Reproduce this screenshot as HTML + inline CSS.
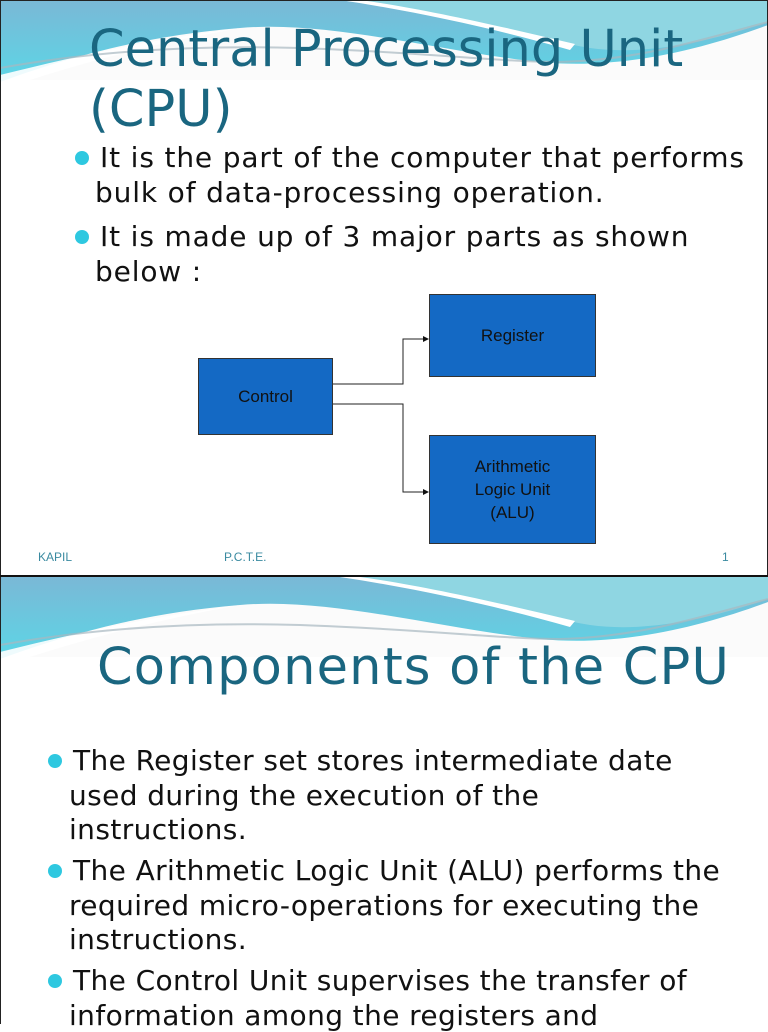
<!DOCTYPE html>
<html><head><meta charset="utf-8"><style>
html,body{margin:0;padding:0;background:#fff;}
body{width:768px;height:1024px;position:relative;overflow:hidden;font-family:"DejaVu Sans","Liberation Sans",sans-serif;}
.t{position:absolute;white-space:nowrap;color:#1a6680;}
.b{position:absolute;white-space:nowrap;color:#111;font-size:28px;letter-spacing:0.85px;}
.b2{position:absolute;white-space:nowrap;color:#111;font-size:28px;letter-spacing:0.4px;}
.dot{position:absolute;width:14px;height:14px;border-radius:50%;background:#2ec8e0;}
.box{position:absolute;background:#1469c4;border:1px solid #333;box-sizing:border-box;display:flex;align-items:center;justify-content:center;text-align:center;font-family:"Liberation Sans",sans-serif;font-size:17px;color:#111;line-height:23px;}
.f{position:absolute;font-family:"Liberation Sans",sans-serif;font-size:12px;color:#3a8aa0;}
</style></head><body>
<svg width="768" height="1024" style="position:absolute;left:0;top:0">
<defs>
<linearGradient id="g2" x1="0" y1="0" x2="0" y2="1"><stop offset="0" stop-color="#7ab8d6"/><stop offset="1" stop-color="#5cd6e6"/></linearGradient>
<g id="wave">
<rect x="0" y="0" width="768" height="80" fill="#fbfbfb"/>
<path d="M0,0 H768 V25 C700,50 620,70 540,62 C440,52 330,20 240,28 C140,36 60,60 0,82 Z" fill="url(#g2)"/>
<path d="M340,0 H768 V22 C700,45 640,55 590,48 C520,36 430,12 340,0 Z" fill="#8fd6e2"/>
<path d="M340,0 C420,12 500,30 570,50 L575,44 C500,26 420,8 360,0 Z" fill="#fff"/>
<path d="M0,75 C80,55 150,40 240,28 C150,44 70,66 0,90 Z" fill="#fff" opacity="0.9"/>
<path d="M0,68 C100,50 200,45 300,48 C420,52 500,62 560,62 C640,60 700,40 768,22" stroke="#a8b8c0" stroke-width="2" fill="none" opacity="0.7"/>
</g>
</defs>
<use href="#wave" x="0" y="0"/>
<use href="#wave" x="0" y="577"/>
<rect x="0.5" y="0.5" width="767" height="575" fill="none" stroke="#222" stroke-width="1"/>
<line x1="0" y1="576" x2="768" y2="576" stroke="#111" stroke-width="2"/>
<line x1="0.5" y1="577" x2="0.5" y2="1024" stroke="#222"/>
<g stroke="#222" stroke-width="1" fill="none">
<polyline points="333,384 403,384 403,339 425,339"/>
<polyline points="333,404 403,404 403,492 425,492"/>
</g>
<polygon points="429,339 423,336 423,342" fill="#111"/>
<polygon points="429,492 423,489 423,495" fill="#111"/>
</svg>
<div class="t" style="left:89px;top:20px;font-size:51px;">Central Processing Unit</div>
<div class="t" style="left:89px;top:80px;font-size:51px;">(CPU)</div>
<div class="dot" style="left:75px;top:151px"></div>
<div class="b" style="left:100px;top:141px">It is the part of the computer that performs</div>
<div class="b" style="left:95px;top:176px">bulk of data-processing operation.</div>
<div class="dot" style="left:75px;top:230px"></div>
<div class="b" style="left:100px;top:220px">It is made up of 3 major parts as shown</div>
<div class="b" style="left:95px;top:255px">below :</div>
<div class="box" style="left:429px;top:294px;width:167px;height:83px">Register</div>
<div class="box" style="left:198px;top:358px;width:135px;height:77px">Control</div>
<div class="box" style="left:429px;top:435px;width:167px;height:109px">Arithmetic<br>Logic Unit<br>(ALU)</div>
<div class="f" style="left:38px;top:550px">KAPIL</div>
<div class="f" style="left:224px;top:550px">P.C.T.E.</div>
<div class="f" style="left:722px;top:550px">1</div>
<div class="t" style="left:97px;top:638px;font-size:51px;letter-spacing:1.2px;">Components of the CPU</div>
<div class="dot" style="left:48px;top:754px"></div>
<div class="b2" style="left:73px;top:744px">The Register set stores intermediate date</div>
<div class="b2" style="left:69px;top:779px">used during the execution of the</div>
<div class="b2" style="left:69px;top:813px">instructions.</div>
<div class="dot" style="left:48px;top:864px"></div>
<div class="b2" style="left:73px;top:854px">The Arithmetic Logic Unit (ALU) performs the</div>
<div class="b2" style="left:69px;top:889px">required micro-operations for executing the</div>
<div class="b2" style="left:69px;top:923px">instructions.</div>
<div class="dot" style="left:48px;top:974px"></div>
<div class="b2" style="left:73px;top:964px">The Control Unit supervises the transfer of</div>
<div class="b2" style="left:69px;top:999px">information among  the registers and</div>
</body></html>
